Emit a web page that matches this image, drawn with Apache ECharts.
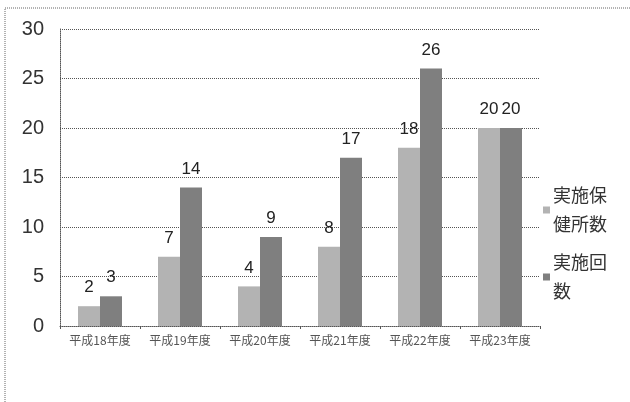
<!DOCTYPE html>
<html>
<head>
<meta charset="utf-8">
<script src="https://cdn.jsdelivr.net/npm/echarts@6/dist/echarts.min.js"></script>
<style>
html, body { margin: 0; padding: 0; background: #fff; }
#chart { width: 630px; height: 402px; }
</style>
</head>
<body>
<div id="chart"></div>
<script>
// 年度
var categories = ['平成18年度', '平成19年度', '平成20年度', '平成21年度', '平成22年度', '平成23年度'];
var hokenjoCounts = [2, 7, 4, 8, 18, 20];   // 実施保健所数
var jisshiCounts = [3, 14, 9, 17, 26, 20];  // 実施回数
var seriesNames = ['実施保\n健所数', '実施回\n数'];

var chart = echarts.init(document.getElementById('chart'));
var fontCJK = '"Noto Sans CJK JP", sans-serif';
var fontNum = '"Liberation Sans", sans-serif';
var option = {
  animation: false,
  textStyle: { fontFamily: fontCJK },
  graphic: [{
    type: 'rect',
    shape: { x: 5, y: 8, width: 640, height: 420 },
    style: { fill: 'none', stroke: '#666', lineWidth: 1, lineDash: [1, 1] }
  }],
  grid: { left: 60, right: 90, top: 29, bottom: 76 },
  legend: {
    orient: 'vertical',
    left: 538,
    top: 176,
    itemWidth: 7,
    itemHeight: 7,
    itemGap: 9,
    icon: 'rect',
    textStyle: { fontSize: 18, color: '#333', lineHeight: 29, fontFamily: fontCJK, padding: [0, 0, 0, -2] },
    data: seriesNames
  },
  xAxis: {
    type: 'category',
    data: categories,
    axisLine: { lineStyle: { color: '#555', type: 'dotted' } },
    axisTick: { show: true, length: 3, lineStyle: { color: '#555' } },
    axisLabel: { fontSize: 12, color: '#555', margin: 8 }
  },
  yAxis: {
    type: 'value',
    min: 0,
    max: 30,
    interval: 5,
    axisLine: { show: true, lineStyle: { color: '#555', type: 'dotted' } },
    axisTick: { show: false },
    axisLabel: { fontSize: 20, color: '#333', margin: 16, fontFamily: fontNum },
    splitLine: { lineStyle: { color: '#555', type: 'dotted' } }
  },
  series: [
    {
      name: seriesNames[0],
      type: 'bar',
      barWidth: 22,
      barGap: '0%',
      itemStyle: { color: '#b3b3b3' },
      label: { show: true, position: 'top', fontSize: 17, color: '#222', fontFamily: fontNum, distance: 10 },
      data: hokenjoCounts
    },
    {
      name: seriesNames[1],
      type: 'bar',
      barWidth: 22,
      itemStyle: { color: '#7f7f7f' },
      label: { show: true, position: 'top', fontSize: 17, color: '#222', fontFamily: fontNum, distance: 10 },
      data: jisshiCounts
    }
  ]
};
chart.setOption(option);
</script>
</body>
</html>
